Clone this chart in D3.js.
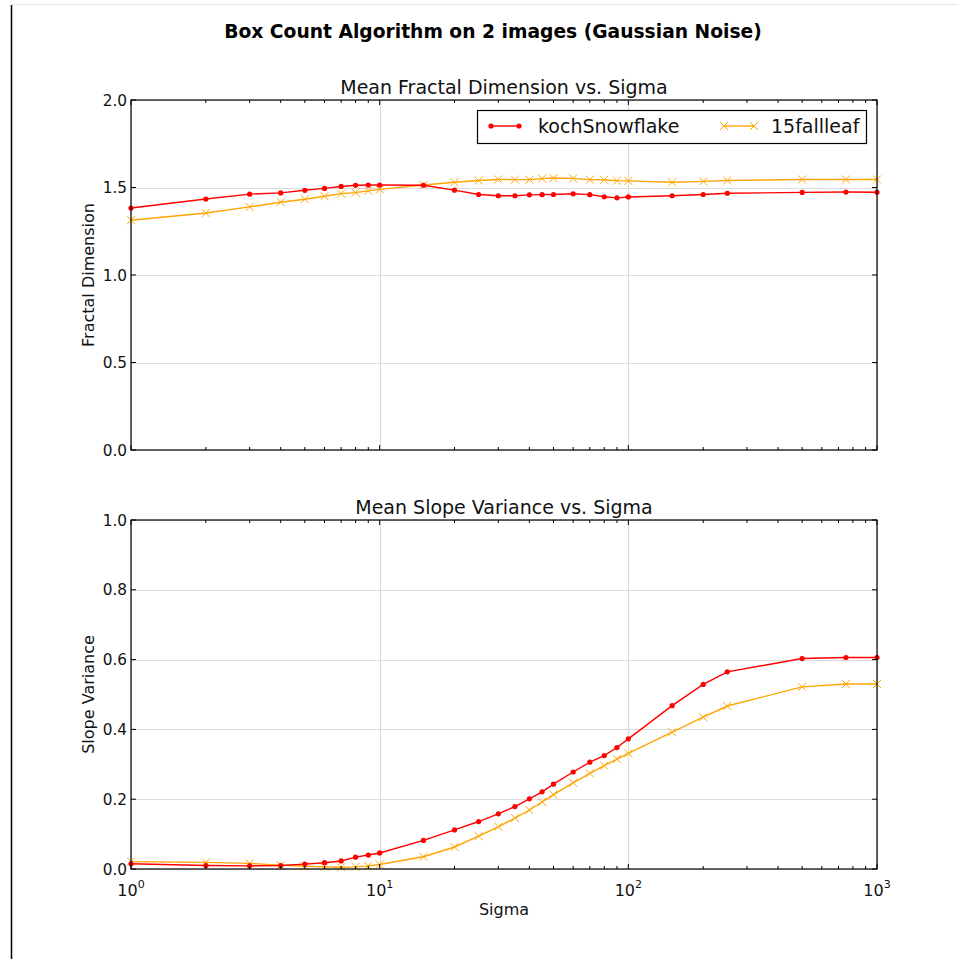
<!DOCTYPE html>
<html>
<head>
<meta charset="utf-8">
<script src="https://cdnjs.cloudflare.com/ajax/libs/d3/7.8.5/d3.min.js"></script>
<style>
  html, body { margin: 0; padding: 0; background: #fff; }
  svg { display: block; font-family: "DejaVu Sans", sans-serif; }
</style>
</head>
<body>
<svg id="chart" width="958" height="959"></svg>
<script>
// Noise levels (Gaussian sigma) applied to each image
const sigma = [1, 2, 3, 4, 5, 6, 7, 8, 9, 10, 15, 20, 25, 30, 35, 40, 45, 50, 60, 70, 80, 90, 100, 150, 200, 250, 500, 750, 1000];

// Mean fractal dimension per sigma
const fdKoch = [1.383, 1.434, 1.462, 1.469, 1.484, 1.495, 1.506, 1.513, 1.514, 1.514, 1.513, 1.485, 1.460, 1.453, 1.453, 1.458, 1.459, 1.460, 1.464, 1.459, 1.447, 1.441, 1.446, 1.453, 1.460, 1.467, 1.472, 1.474, 1.473];
const fdLeaf = [1.313, 1.354, 1.389, 1.416, 1.433, 1.450, 1.465, 1.471, 1.481, 1.489, 1.514, 1.530, 1.540, 1.546, 1.545, 1.545, 1.551, 1.554, 1.552, 1.545, 1.544, 1.539, 1.538, 1.530, 1.535, 1.540, 1.546, 1.546, 1.546];

// Mean slope variance per sigma
const svKoch = [0.015, 0.010, 0.009, 0.010, 0.014, 0.018, 0.023, 0.034, 0.040, 0.046, 0.082, 0.112, 0.136, 0.158, 0.179, 0.201, 0.221, 0.243, 0.278, 0.306, 0.325, 0.348, 0.373, 0.468, 0.529, 0.565, 0.603, 0.606, 0.606];
const svLeaf = [0.021, 0.019, 0.016, 0.011, 0.008, 0.006, 0.005, 0.006, 0.009, 0.013, 0.035, 0.063, 0.094, 0.121, 0.146, 0.169, 0.192, 0.213, 0.247, 0.274, 0.296, 0.315, 0.331, 0.392, 0.435, 0.467, 0.522, 0.530, 0.530];

const seriesNames = ["kochSnowflake", "15fallleaf"];
const xTickValues = [1, 10, 100, 1000];
const xTickExponents = ["0", "1", "2", "3"];
const fdTicks = [0.0, 0.5, 1.0, 1.5, 2.0];
const svTicks = [0.0, 0.2, 0.4, 0.6, 0.8, 1.0];

const RED = "#ff0000";
const ORANGE = "#ffa500";
const XMARK = "M-4,-4L4,4M-4,4L4,-4";

const svg = d3.select("#chart");

// Page frame edges
svg.append("line").attr("x1", 12).attr("x2", 958).attr("y1", 4.5).attr("y2", 4.5)
  .attr("stroke", "#e6e6e6").attr("stroke-width", 1);
svg.append("line").attr("x1", 11.5).attr("x2", 11.5).attr("y1", 5).attr("y2", 959)
  .attr("stroke", "#000").attr("stroke-width", 1.5);

// Figure title
svg.append("text").attr("x", 493).attr("y", 38).attr("text-anchor", "middle")
  .attr("font-size", 18.7).attr("font-weight", "bold").attr("fill", "#000")
  .text("Box Count Algorithm on 2 images (Gaussian Noise)");

const left = 131, right = 877;
const x = d3.scaleLog().domain([1, 1000]).range([left, right]);

function minorTicks() {
  const out = [];
  for (let d = 1; d < 1000; d *= 10) for (let k = 2; k <= 9; k++) out.push(d * k);
  return out;
}

function panel(opts) {
  const { top, bottom, domain, ticks, fmt, title, ylabel, a, b, showX } = opts;
  const y = d3.scaleLinear().domain(domain).range([bottom, top]);
  const g = svg.append("g");

  // grid
  g.selectAll(".hg").data(ticks).join("line")
    .attr("x1", left).attr("x2", right)
    .attr("y1", d => Math.round(y(d)) + 0.5).attr("y2", d => Math.round(y(d)) + 0.5)
    .attr("stroke", "#dcdcdc").attr("stroke-width", 1.2);
  g.selectAll(".vg").data(xTickValues).join("line")
    .attr("x1", d => Math.round(x(d)) + 0.5).attr("x2", d => Math.round(x(d)) + 0.5)
    .attr("y1", top).attr("y2", bottom)
    .attr("stroke", "#dcdcdc").attr("stroke-width", 1.2);

  // series
  const line = d3.line().x((d, i) => x(sigma[i])).y(d => y(d));
  g.append("path").datum(b).attr("d", line).attr("fill", "none")
    .attr("stroke", ORANGE).attr("stroke-width", 1.4);
  g.selectAll(".mx").data(b).join("path")
    .attr("transform", (d, i) => `translate(${x(sigma[i])},${y(d)})`)
    .attr("d", XMARK)
    .attr("stroke", ORANGE).attr("stroke-width", 1).attr("fill", "none");
  g.append("path").datum(a).attr("d", line).attr("fill", "none")
    .attr("stroke", RED).attr("stroke-width", 1.4);
  g.selectAll(".mo").data(a).join("circle")
    .attr("cx", (d, i) => x(sigma[i])).attr("cy", d => y(d)).attr("r", 2.6)
    .attr("fill", RED);

  // frame
  g.append("rect").attr("x", left).attr("y", top).attr("width", right - left).attr("height", bottom - top)
    .attr("fill", "none").attr("stroke", "#000").attr("stroke-width", 1.2);

  // x ticks (inside, both edges)
  const tickG = g.append("g").attr("stroke", "#000").attr("stroke-width", 1);
  xTickValues.forEach(v => {
    const px = x(v);
    tickG.append("line").attr("x1", px).attr("x2", px).attr("y1", bottom).attr("y2", bottom - 5);
    tickG.append("line").attr("x1", px).attr("x2", px).attr("y1", top).attr("y2", top + 5);
  });
  minorTicks().forEach(v => {
    const px = x(v);
    tickG.append("line").attr("x1", px).attr("x2", px).attr("y1", bottom).attr("y2", bottom - 3);
    tickG.append("line").attr("x1", px).attr("x2", px).attr("y1", top).attr("y2", top + 3);
  });
  // y ticks
  ticks.forEach(v => {
    const py = y(v);
    tickG.append("line").attr("x1", left).attr("x2", left + 5).attr("y1", py).attr("y2", py);
    tickG.append("line").attr("x1", right).attr("x2", right - 5).attr("y1", py).attr("y2", py);
  });

  g.selectAll(".yl").data(ticks).join("text")
    .attr("x", left - 4).attr("y", d => y(d) + 5.5)
    .attr("text-anchor", "end").attr("font-size", 15.3).attr("fill", "#111")
    .text(d => fmt(d));

  if (showX) {
    xTickValues.forEach((v, i) => {
      const t = g.append("text").attr("x", x(v)).attr("y", bottom + 27)
        .attr("text-anchor", "middle").attr("font-size", 16).attr("fill", "#111");
      t.append("tspan").text("10");
      t.append("tspan").attr("dy", -8).attr("font-size", 11).text(xTickExponents[i]);
    });
    g.append("text").attr("x", (left + right) / 2).attr("y", bottom + 46)
      .attr("text-anchor", "middle").attr("font-size", 16).attr("fill", "#111").text("Sigma");
  }

  g.append("text").attr("x", (left + right) / 2).attr("y", top - 6)
    .attr("text-anchor", "middle").attr("font-size", 19).attr("fill", "#111").text(title);

  g.append("text")
    .attr("transform", `translate(${94},${(top + bottom) / 2}) rotate(-90)`)
    .attr("text-anchor", "middle").attr("font-size", 16).attr("fill", "#111").text(ylabel);
  return y;
}

panel({ top: 100, bottom: 450, domain: [0, 2], ticks: fdTicks, fmt: d3.format(".1f"),
  title: "Mean Fractal Dimension vs. Sigma", ylabel: "Fractal Dimension", a: fdKoch, b: fdLeaf, showX: false });
panel({ top: 520, bottom: 869, domain: [0, 1], ticks: svTicks, fmt: d3.format(".1f"),
  title: "Mean Slope Variance vs. Sigma", ylabel: "Slope Variance", a: svKoch, b: svLeaf, showX: true });

// Legend
const lg = svg.append("g");
lg.append("rect").attr("x", 477.5).attr("y", 110.5).attr("width", 389).attr("height", 33)
  .attr("fill", "#fff").attr("stroke", "#000").attr("stroke-width", 1.2);
lg.append("line").attr("x1", 491).attr("x2", 519).attr("y1", 126).attr("y2", 126).attr("stroke", RED).attr("stroke-width", 1.4);
[491, 519].forEach(cx => lg.append("circle").attr("cx", cx).attr("cy", 126).attr("r", 2.6).attr("fill", RED));
lg.append("text").attr("x", 538).attr("y", 133).attr("font-size", 19).attr("fill", "#111").text(seriesNames[0]);
lg.append("line").attr("x1", 724).attr("x2", 754).attr("y1", 126).attr("y2", 126).attr("stroke", ORANGE).attr("stroke-width", 1.4);
[724, 754].forEach(cx => lg.append("path").attr("transform", `translate(${cx},126)`)
  .attr("d", XMARK).attr("stroke", ORANGE).attr("fill", "none"));
lg.append("text").attr("x", 771).attr("y", 133).attr("font-size", 19).attr("fill", "#111").text(seriesNames[1]);
</script>
</body>
</html>
